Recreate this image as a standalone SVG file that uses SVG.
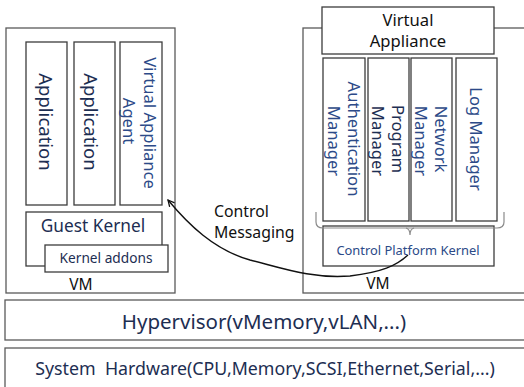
<svg xmlns="http://www.w3.org/2000/svg" width="524" height="387" viewBox="0 0 524 387">
<defs>
<style>
.box{fill:#fff;stroke:#3c3c3c;stroke-width:1.3}
.outer{fill:#fff;stroke:#5a5a5a;stroke-width:1.3}
.t{font-family:"Noto Sans","Open Sans","DejaVu Sans",sans-serif}
.navy{fill:#1d2e52}
.blue{fill:#2c4a88}
.blk{fill:#111}
.conn{fill:none;stroke:#111;stroke-width:1.4}
.brace{fill:none;stroke:#8a8a8a;stroke-width:1.2}
</style>
<marker id="arr" viewBox="0 0 10 10" refX="9" refY="5" markerWidth="8" markerHeight="8" orient="auto" markerUnits="userSpaceOnUse">
<path d="M1,1 L9,5 L1,9" fill="none" stroke="#111" stroke-width="1.6"/>
</marker>
</defs>
<rect width="524" height="387" fill="#fff"/>

<g id="system-hardware">
<rect class="outer" x="5" y="348" width="530" height="50"/>
<text class="t navy" x="265" y="375" font-size="17.8" text-anchor="middle" xml:space="preserve">System  Hardware(CPU,Memory,SCSI,Ethernet,Serial,...)</text>
</g>

<g id="hypervisor">
<rect class="outer" x="5" y="300" width="530" height="40"/>
<text class="t navy" x="264" y="329" font-size="20.5" text-anchor="middle">Hypervisor(vMemory,vLAN,...)</text>
</g>

<g id="vm-left">
<rect class="outer" x="6" y="28" width="169" height="265"/>
<text class="t blk" x="81" y="290" font-size="15.5" text-anchor="middle">VM</text>
</g>

<g id="application-1">
<rect class="box" x="26" y="42" width="41" height="163"/>
<text class="t navy" font-size="18.5" text-anchor="middle" transform="translate(45,122) rotate(90)" y="6">Application</text>
</g>

<g id="application-2">
<rect class="box" x="74" y="42" width="41" height="163"/>
<text class="t navy" font-size="18.5" text-anchor="middle" transform="translate(90,122) rotate(90)" y="6">Application</text>
</g>

<g id="virtual-appliance-agent">
<rect class="box" x="120" y="42" width="42" height="163"/>
<text class="t blue" font-size="16.6" text-anchor="middle" transform="translate(149,123) rotate(90)" y="5.5">Virtual Appliance</text>
<text class="t blue" font-size="16.6" text-anchor="middle" transform="translate(128,121) rotate(90)" y="5.5">Agent</text>
</g>

<g id="guest-kernel">
<rect class="box" x="26" y="212" width="136" height="54"/>
<text class="t navy" x="93" y="232" font-size="17.3" text-anchor="middle">Guest Kernel</text>
</g>

<g id="kernel-addons">
<rect class="box" x="45" y="245" width="123" height="27"/>
<text class="t navy" x="106" y="263" font-size="13.7" text-anchor="middle">Kernel addons</text>
</g>

<g id="vm-right">
<rect class="outer" x="303" y="28" width="230" height="265"/>
<text class="t blk" x="378" y="289" font-size="15.5" text-anchor="middle">VM</text>
</g>

<g id="virtual-appliance">
<rect class="box" x="322" y="7" width="172" height="47"/>
<text class="t blk" x="408" y="26" font-size="16.6" text-anchor="middle">Virtual</text>
<text class="t blk" x="408" y="47" font-size="16.6" text-anchor="middle">Appliance</text>
</g>

<g id="authentication-manager">
<rect class="box" x="323" y="58" width="42" height="163"/>
<text class="t blue" font-size="16.6" text-anchor="middle" transform="translate(353,139) rotate(90)" y="5.5">Authentication</text>
<text class="t blue" font-size="16.6" text-anchor="middle" transform="translate(333,141) rotate(90)" y="5.5">Manager</text>
</g>

<g id="program-manager">
<rect class="box" x="368" y="58" width="41" height="163"/>
<text class="t navy" font-size="16.6" text-anchor="middle" transform="translate(397,139) rotate(90)" y="5.5">Program</text>
<text class="t navy" font-size="16.6" text-anchor="middle" transform="translate(377,141) rotate(90)" y="5.5">Manager</text>
</g>

<g id="network-manager">
<rect class="box" x="411" y="58" width="41" height="163"/>
<text class="t blue" font-size="16.6" text-anchor="middle" transform="translate(440,139) rotate(90)" y="5.5">Network</text>
<text class="t blue" font-size="16.6" text-anchor="middle" transform="translate(420,141) rotate(90)" y="5.5">Manager</text>
</g>

<g id="log-manager">
<rect class="box" x="456" y="58" width="41" height="163"/>
<text class="t blue" font-size="16.6" text-anchor="middle" transform="translate(475,139) rotate(90)" y="5.5">Log Manager</text>
</g>

<g id="control-platform-kernel">
<rect class="box" x="323" y="226" width="171" height="40"/>
<text class="t blue" x="408" y="255" font-size="12.9" text-anchor="middle">Control Platform Kernel</text>
</g>

<g id="brace">
<path class="brace" d="M316,212 L316,222 Q316,228 323,228 L497,228 Q504,228 504,222 L504,212"/>
<path class="brace" d="M406,228 Q410,229 410,235 Q410,229 414,228"/>
</g>

<g id="connectors">
<path class="conn" d="M408,255 C396,266 382,272 350,276 C312,279 282,268 250,260 C214,250 188,224 168,200" marker-end="url(#arr)"/>
<text class="t blk" x="214" y="217" font-size="15.8">Control</text>
<text class="t blk" x="214" y="238" font-size="15.8">Messaging</text>
</g>
</svg>
